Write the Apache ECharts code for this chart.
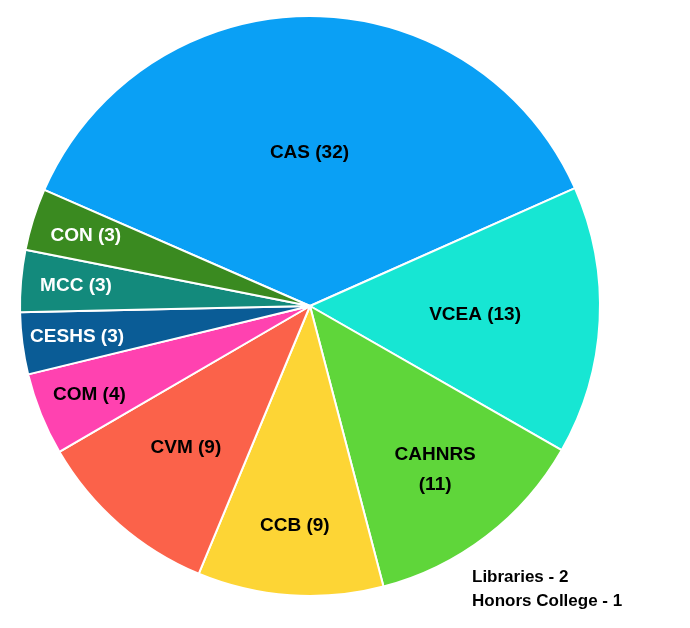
<!DOCTYPE html>
<html>
<head>
<meta charset="utf-8">
<script src="https://cdn.jsdelivr.net/npm/echarts@6/dist/echarts.min.js"></script>
<style>html,body{margin:0;padding:0;background:#fff}#container{width:690px;height:628px}</style>
</head>
<body>
<div id="container"></div>
<script>
var colleges = ['CAS', 'VCEA', 'CAHNRS', 'CCB', 'CVM', 'COM', 'CESHS', 'MCC', 'CON'];
var counts = [32, 13, 11, 9, 9, 4, 3, 3, 3];
var labelTexts = ['CAS (32)', 'VCEA (13)', 'CAHNRS\n(11)', 'CCB (9)', 'CVM (9)', 'COM (4)', 'CESHS (3)', 'MCC (3)', 'CON (3)'];
var notes = ['Libraries - 2', 'Honors College - 1'];

var colors = ['#0aa0f5', '#17e6d3', '#5fd63a', '#fdd535', '#fb624a', '#ff42b0', '#0a5c96', '#138a7c', '#3a8a20'];
var textColors = ['#000', '#000', '#000', '#000', '#000', '#000', '#fff', '#fff', '#fff'];
// how far out from the centre each label sits (fraction of radius)
var labelRadius = [0.53, 0.57, 0.71, 0.76, 0.65, 0.82, 0.81, 0.81, 0.81];

var cx = 310, cy = 306, r = 290;

var data = [];
for (var i = 0; i < colleges.length; i++) {
	data.push({
		name: colleges[i],
		value: counts[i],
		itemStyle: {color: colors[i]},
		label: {color: textColors[i], formatter: labelTexts[i]}
	});
}

var myChart = echarts.init(document.getElementById('container'));
myChart.setOption({
	animation: false,
	graphic: [{
		type: 'text',
		left: 472,
		top: 565,
		style: {
			text: notes.join('\n'),
			font: 'bold 17px "Liberation Sans", Arial, sans-serif',
			lineHeight: 24,
			fill: '#000'
		}
	}],
	series: [{
		type: 'pie',
		center: [cx, cy],
		radius: [0, r],
		startAngle: 156.4,
		clockwise: true,
		itemStyle: {borderColor: '#fff', borderWidth: 2},
		label: {
			show: true,
			position: 'inside',
			fontSize: 19,
			fontWeight: 'bold',
			fontFamily: '"Liberation Sans", Arial, sans-serif',
			lineHeight: 30,
			align: 'center'
		},
		labelLayout: function (params) {
			var rect = params.labelRect;
			var lx = rect.x + rect.width / 2, ly = rect.y + rect.height / 2;
			var dx = lx - cx, dy = ly - cy;
			var d = Math.sqrt(dx * dx + dy * dy) || 1;
			var f = labelRadius[params.dataIndex] * r / d;
			return {x: cx + dx * f, y: cy + dy * f, align: 'center', verticalAlign: 'middle'};
		},
		data: data
	}]
});
</script>
</body>
</html>
